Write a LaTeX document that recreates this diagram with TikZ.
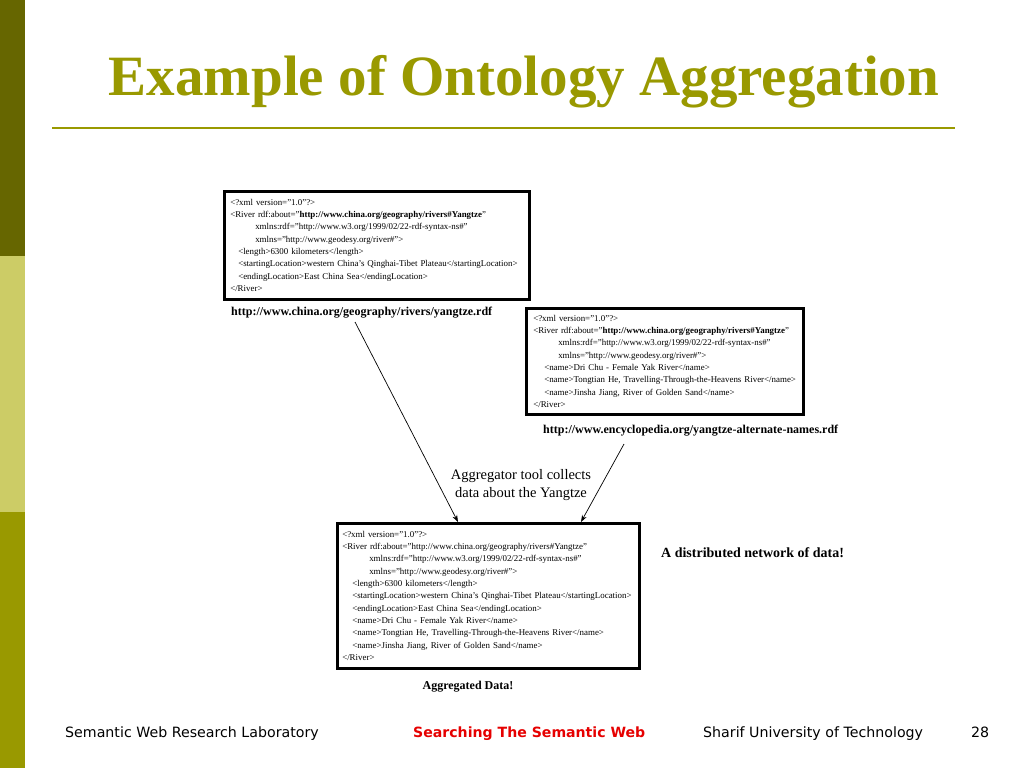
\documentclass[tikz,border=0pt]{standalone}
\usepackage{fontspec}
\setmainfont{Liberation Serif}
\newfontfamily\footfont{DejaVu Sans}
\usetikzlibrary{arrows.meta}
\definecolor{barDark}{RGB}{102,102,0}
\definecolor{barLight}{RGB}{204,204,102}
\definecolor{barMid}{RGB}{153,153,0}
\definecolor{titleCol}{RGB}{153,153,0}
\definecolor{footRed}{RGB}{230,0,0}
\newcommand{\tg}[1]{\textless#1\textgreater}
\tikzset{
  xmlbox/.style={draw=black, line width=2.5pt, anchor=north west, align=left,
    inner xsep=7pt, inner ysep=4pt, font=\fontsize{8.9}{12.3}\selectfont},
  urllabel/.style={font=\fontsize{12}{14}\selectfont\bfseries, anchor=base west, inner sep=0pt},
  footer/.style={font=\footfont\fontsize{14.2}{16}\selectfont, anchor=base west, inner sep=0pt},
  conn/.style={draw=black, line width=0.7pt, -{Stealth[length=7pt,width=5pt]}}
}
\begin{document}
\begin{tikzpicture}[x=1pt,y=-1pt]
\useasboundingbox (0,0) rectangle (1024,768);
\fill[white] (0,0) rectangle (1024,768);
% side bar
\fill[barDark] (0,0) rectangle (25,256);
\fill[barLight] (0,256) rectangle (25,512);
\fill[barMid] (0,512) rectangle (25,768);
% title
\node[anchor=base, inner sep=0pt, text=titleCol, font=\fontsize{57}{62}\selectfont\bfseries] (title) at (524,95) {Example of Ontology Aggregation};
\draw[titleCol, line width=2pt] (52,128) -- (955,128);
% box 1
\node[xmlbox, text width=293pt, inner xsep=6pt, minimum height=108pt] (b1) at (223,190) {%
\tg{?xml version="1.0"?}\\
\textless River rdf:about="\textbf{http://www.china.org/geography/rivers\#Yangtze}"\\
\hspace*{25pt}xmlns:rdf="http://www.w3.org/1999/02/22-rdf-syntax-ns\#"\\
\hspace*{25pt}xmlns="http://www.geodesy.org/river\#"\textgreater\\
\hspace*{8pt}\tg{length}6300 kilometers\tg{/length}\\
\hspace*{8pt}\tg{startingLocation}western China's Qinghai-Tibet Plateau\tg{/startingLocation}\\
\hspace*{8pt}\tg{endingLocation}East China Sea\tg{/endingLocation}\\
\tg{/River}};
\node[urllabel] (l1) at (231,315) {http://www.china.org/geography/rivers/yangtze.rdf};
% box 2
\node[xmlbox, text width=263pt, minimum height=106pt] (b2) at (525,307) {%
\tg{?xml version="1.0"?}\\
\textless River rdf:about="\textbf{http://www.china.org/geography/rivers\#Yangtze}"\\
\hspace*{25pt}xmlns:rdf="http://www.w3.org/1999/02/22-rdf-syntax-ns\#"\\
\hspace*{25pt}xmlns="http://www.geodesy.org/river\#"\textgreater\\
\hspace*{11pt}\tg{name}Dri Chu - Female Yak River\tg{/name}\\
\hspace*{11pt}\tg{name}Tongtian He, Travelling-Through-the-Heavens River\tg{/name}\\
\hspace*{11pt}\tg{name}Jinsha Jiang, River of Golden Sand\tg{/name}\\
\tg{/River}};
\node[urllabel] (l2) at (543,433) {http://www.encyclopedia.org/yangtze-alternate-names.rdf};
% box 3
\node[xmlbox, text width=292pt, inner xsep=5pt, minimum height=145pt] (b3) at (336,522) {%
\tg{?xml version="1.0"?}\\
\textless River rdf:about="http://www.china.org/geography/rivers\#Yangtze"\\
\hspace*{27pt}xmlns:rdf="http://www.w3.org/1999/02/22-rdf-syntax-ns\#"\\
\hspace*{27pt}xmlns="http://www.geodesy.org/river\#"\textgreater\\
\hspace*{10pt}\tg{length}6300 kilometers\tg{/length}\\
\hspace*{10pt}\tg{startingLocation}western China's Qinghai-Tibet Plateau\tg{/startingLocation}\\
\hspace*{10pt}\tg{endingLocation}East China Sea\tg{/endingLocation}\\
\hspace*{10pt}\tg{name}Dri Chu - Female Yak River\tg{/name}\\
\hspace*{10pt}\tg{name}Tongtian He, Travelling-Through-the-Heavens River\tg{/name}\\
\hspace*{10pt}\tg{name}Jinsha Jiang, River of Golden Sand\tg{/name}\\
\tg{/River}};
\node[urllabel, anchor=base] (l3) at (468,689) {Aggregated Data!};
\node[urllabel, font=\fontsize{14}{16}\selectfont\bfseries] (net) at (661,557) {A distributed network of data!};
% aggregator label
\node[align=center, inner sep=0pt, font=\fontsize{14.5}{18}\selectfont] (agg) at (521,485) {Aggregator tool collects\\data about the Yangtze};
% connectors
\coordinate (s1) at (355,322);
\coordinate (e1) at (458,522);
\coordinate (s2) at (624,444);
\coordinate (e2) at (581,522);
\draw[conn] (s1) -- (e1);
\draw[conn] (s2) -- (e2);
% footer
\node[footer] (f1) at (65,737) {Semantic Web Research Laboratory};
\node[footer, text=footRed, font=\footfont\fontsize{14.1}{16}\selectfont\bfseries] (f2) at (413,737) {Searching The Semantic Web};
\node[footer] (f3) at (703,737) {Sharif University of Technology};
\node[footer] (f4) at (971,737) {28};
\end{tikzpicture}
\end{document}
